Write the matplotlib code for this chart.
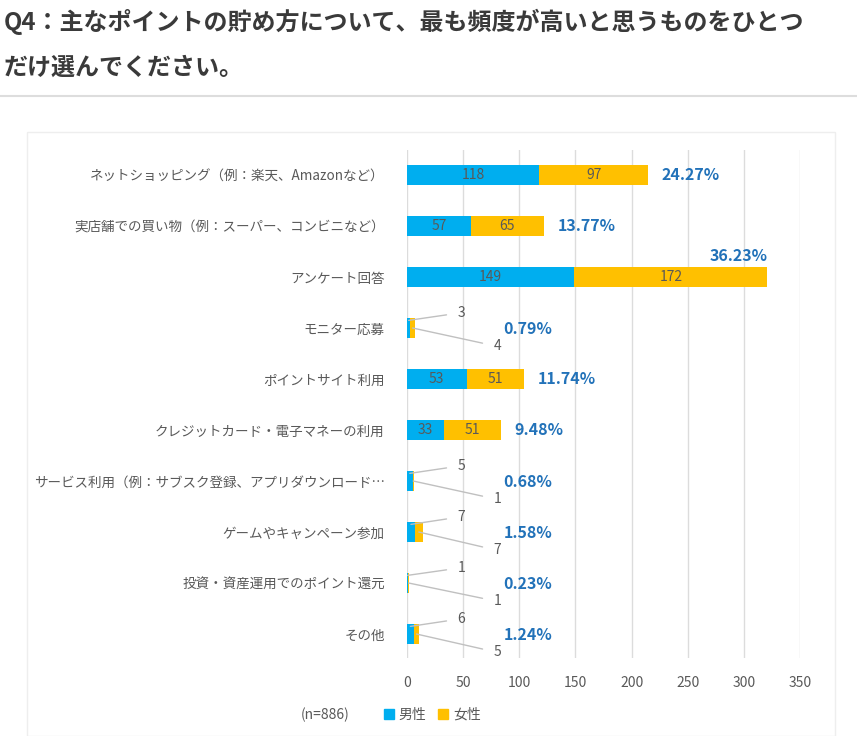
import matplotlib
matplotlib.use("Agg")
import matplotlib.pyplot as plt
from matplotlib.patches import Rectangle
from matplotlib.lines import Line2D

plt.rcParams['font.family'] = ['Noto Sans CJK JP', 'DejaVu Sans']

# データ
categories = ["ネットショッピング（例：楽天、Amazonなど）",
              "実店舗での買い物（例：スーパー、コンビニなど）",
              "アンケート回答",
              "モニター応募",
              "ポイントサイト利用",
              "クレジットカード・電子マネーの利用",
              "サービス利用（例：サブスク登録、アプリダウンロード…",
              "ゲームやキャンペーン参加",
              "投資・資産運用でのポイント還元",
              "その他"]
male = [118, 57, 149, 3, 53, 33, 5, 7, 1, 6]
female = [97, 65, 172, 4, 51, 51, 1, 7, 1, 5]
n_total = 886
xticks = [0, 50, 100, 150, 200, 250, 300, 350]

BLUE = "#00AEEF"
YELLOW = "#FFC000"
PCT = "#2272B9"
GRAY = "#595959"

fig = plt.figure(figsize=(8.57, 7.36), dpi=100)

# タイトル
fig.text(0.004, 0.970, "Q4：主なポイントの貯め方について、最も頻度が高いと思うものをひとつ",
         fontsize=17.3, fontweight="bold", color="#3a3a3a", va="center")
fig.text(0.004, 0.908, "だけ選んでください。",
         fontsize=17.3, fontweight="bold", color="#3a3a3a", va="center")
fig.add_artist(Line2D([0, 1], [1 - 96 / 736, 1 - 96 / 736], color="#dddddd", lw=1.5,
                      transform=fig.transFigure))
fig.add_artist(Rectangle((27 / 857, 0), (835 - 27) / 857, 1 - 132 / 736,
                         transform=fig.transFigure, fill=False, ec="#eeeeee", lw=1))

ax = fig.add_axes([407 / 857, 1 - 658 / 736, 393 / 857, (658 - 150) / 736])
y = list(range(len(categories)))
ax.barh(y, male, height=0.4, color=BLUE, zorder=3)
ax.barh(y, female, left=male, height=0.4, color=YELLOW, zorder=3)

ax.set_xlim(0, 350)
ax.set_ylim(9.47, -0.49)
ax.set_xticks(xticks)
ax.set_yticks(y)
ax.set_yticklabels(categories)
ax.tick_params(axis="y", length=0, pad=16, labelsize=9.75, labelcolor=GRAY)
ax.tick_params(axis="x", length=0, pad=13, labelsize=10, labelcolor=GRAY)
ax.grid(axis="x", color="#dcdcdc", lw=1, zorder=0)
for s in ax.spines.values():
    s.set_visible(False)

for i in y:
    m, f = male[i], female[i]
    tot = m + f
    pct = f"{tot / n_total * 100:.2f}%"
    if tot >= 20:
        ax.text(m / 2, i, str(m), ha="center", va="center", fontsize=10, color=GRAY, zorder=4)
        ax.text(m + f / 2, i, str(f), ha="center", va="center", fontsize=10, color=GRAY, zorder=4)
        if tot > 300:
            ax.text(tot, i - 0.42, pct, ha="right", va="center", fontsize=11.5,
                    fontweight="bold", color=PCT)
        else:
            ax.text(tot + 12, i, pct, ha="left", va="center", fontsize=11.5,
                    fontweight="bold", color=PCT)
    else:
        # 小さい値は引き出し線付きラベル
        ax.annotate(str(m), xy=(m / 2, i - 0.15), xytext=(45, i - 0.3),
                    ha="left", va="center", fontsize=10, color=GRAY,
                    arrowprops=dict(arrowstyle="-", color="#c0c0c0", lw=1,
                                    shrinkA=6, shrinkB=0))
        ax.annotate(str(f), xy=(m + f / 2, i), xytext=(77, i + 0.36),
                    ha="left", va="center", fontsize=10, color=GRAY,
                    arrowprops=dict(arrowstyle="-", color="#c0c0c0", lw=1,
                                    shrinkA=6, shrinkB=0))
        ax.text(86, i + 0.02, pct, ha="left", va="center", fontsize=11.5,
                fontweight="bold", color=PCT)

# 凡例
fig.text(325 / 857, 1 - 715 / 736, f"(n={n_total})", ha="center", va="center",
         fontsize=10, color=GRAY)
handles = [Line2D([], [], marker="s", ls="", color=BLUE, markersize=7, label="男性"),
           Line2D([], [], marker="s", ls="", color=YELLOW, markersize=7, label="女性")]
fig.legend(handles=handles, loc="center", bbox_to_anchor=(432 / 857, 1 - 715 / 736),
           ncol=2, frameon=False, fontsize=10, labelcolor=GRAY,
           handletextpad=0.3, columnspacing=0.8, handlelength=0.8)

fig.savefig("out.png", dpi=100)
